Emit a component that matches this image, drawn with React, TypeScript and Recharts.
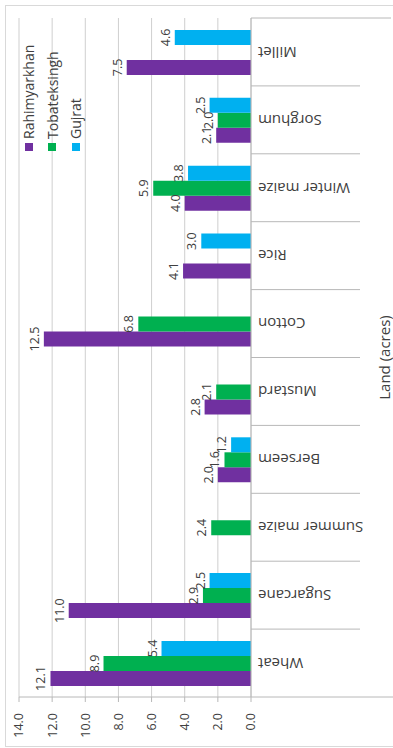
import React from 'react';
import { BarChart, Bar, XAxis, YAxis, CartesianGrid, LabelList, Legend } from 'recharts';

const categories = ['Wheat', 'Sugarcane', 'Summer maize', 'Berseem', 'Mustard', 'Cotton', 'Rice', 'Winter maize', 'Sorghum', 'Millet'];
const rahimyarkhan = [12.1, 11.0, null, 2.0, 2.8, 12.5, 4.1, 4.0, 2.1, 7.5];
const tobateksingh = [8.9, 2.9, 2.4, 1.6, 2.1, 6.8, null, 5.9, 2.0, null];
const gujrat = [5.4, 2.5, null, 1.2, null, null, 3.0, 3.8, 2.5, 4.6];
const valueTicks = [0, 2, 4, 6, 8, 10, 12, 14];
const seriesNames = ['Rahimyarkhan', 'Tobateksingh', 'Gujrat'];
const seriesColors = ['#7030A0', '#00B050', '#00B0F0'];
const axisTitle = 'Land (acres)';

const data = categories.map((name, i) => ({
  name,
  Rahimyarkhan: rahimyarkhan[i],
  Tobateksingh: tobateksingh[i],
  Gujrat: gujrat[i],
}));

const W = 748;
const H = 393;
const MARGIN = { top: 19, right: 18, bottom: 0, left: 0 };
const Y_AXIS_W = 51;
const X_AXIS_H = 142;
const PLOT_W = W - MARGIN.left - MARGIN.right - Y_AXIS_W;
const FONT = "'Open Sans', sans-serif";
const TEXT = '#404040';
const GRID = '#cfcfcf';
const AXIS = '#b8b8b8';

const CategoryTick = (props: any) => {
  const { x, y, payload, index } = props;
  const bw = PLOT_W / categories.length;
  const left = x - bw / 2;
  const right = x + bw / 2;
  const top = y - 7;
  return (
    <g>
      <line x1={left} x2={left} y1={top} y2={index === 0 ? top + 142 : top + 109} stroke={AXIS} strokeWidth={1} />
      {index === categories.length - 1 && (
        <line x1={right} x2={right} y1={top} y2={top + 140} stroke={AXIS} strokeWidth={1} />
      )}
      <text
        x={x}
        y={y}
        transform={`rotate(-90, ${x}, ${y})`}
        textAnchor="end"
        dy="0.35em"
        fontFamily={FONT}
        fontSize={15}
        fill={TEXT}
      >
        {payload.value}
      </text>
    </g>
  );
};

const LegendContent = () => (
  <div style={{ fontFamily: FONT, fontSize: 14, color: TEXT }}>
    {seriesNames.map((n, i) => (
      <div key={n} style={{ height: 23.5, display: 'flex', alignItems: 'center' }}>
        <span style={{ display: 'inline-block', width: 8, height: 8, background: seriesColors[i], marginRight: 4 }} />
        <span>{n}</span>
      </div>
    ))}
  </div>
);

export default function App() {
  return (
    <div style={{ position: 'absolute', left: 0, top: 0, width: 393, height: 748, overflow: 'hidden', background: '#fff' }}>
      <div
        style={{
          position: 'absolute',
          left: 0,
          top: 0,
          width: W,
          height: H,
          transformOrigin: '0 0',
          transform: `translate(0px, ${W}px) rotate(-90deg)`,
        }}
      >
        <div
          style={{
            position: 'absolute',
            left: 1,
            top: 5,
            width: 740,
            height: 400,
            borderLeft: '1px solid #d9d9d9',
            borderTop: '1px solid #d9d9d9',
            borderRight: '1px solid #d9d9d9',
          }}
        />
        <BarChart width={W} height={H} data={data} margin={MARGIN} barGap={0} barSize={15}>
          <CartesianGrid horizontal vertical={false} stroke={GRID} />
          <XAxis
            dataKey="name"
            interval={0}
            height={X_AXIS_H}
            tickSize={0}
            tickMargin={7}
            tickLine={false}
            axisLine={{ stroke: AXIS }}
            tick={<CategoryTick />}
            label={{ value: axisTitle, position: 'insideBottom', offset: 3, style: { fontFamily: FONT, fontSize: 15, fill: TEXT } }}
          />
          <YAxis
            type="number"
            domain={[0, 14]}
            ticks={valueTicks}
            interval={0}
            width={Y_AXIS_W}
            tickSize={5}
            tickMargin={11}
            axisLine={{ stroke: AXIS }}
            tickLine={{ stroke: AXIS }}
            tickFormatter={(v: number) => v.toFixed(1)}
            tick={{ fontFamily: FONT, fontSize: 12.5, fill: TEXT }}
          />
          <Legend
            layout="vertical"
            align="center"
            verticalAlign="middle"
            content={<LegendContent />}
            wrapperStyle={{ left: 597, top: 17, width: 130, height: 72 }}
          />
          {seriesNames.map((n, i) => (
            <Bar key={n} dataKey={n} fill={seriesColors[i]} isAnimationActive={false}>
              <LabelList
                dataKey={n}
                position="top"
                formatter={(v: any) => (v == null ? '' : Number(v).toFixed(1))}
                style={{ fontFamily: FONT, fontSize: 12.5, fill: TEXT }}
              />
            </Bar>
          ))}
        </BarChart>
      </div>
    </div>
  );
}
